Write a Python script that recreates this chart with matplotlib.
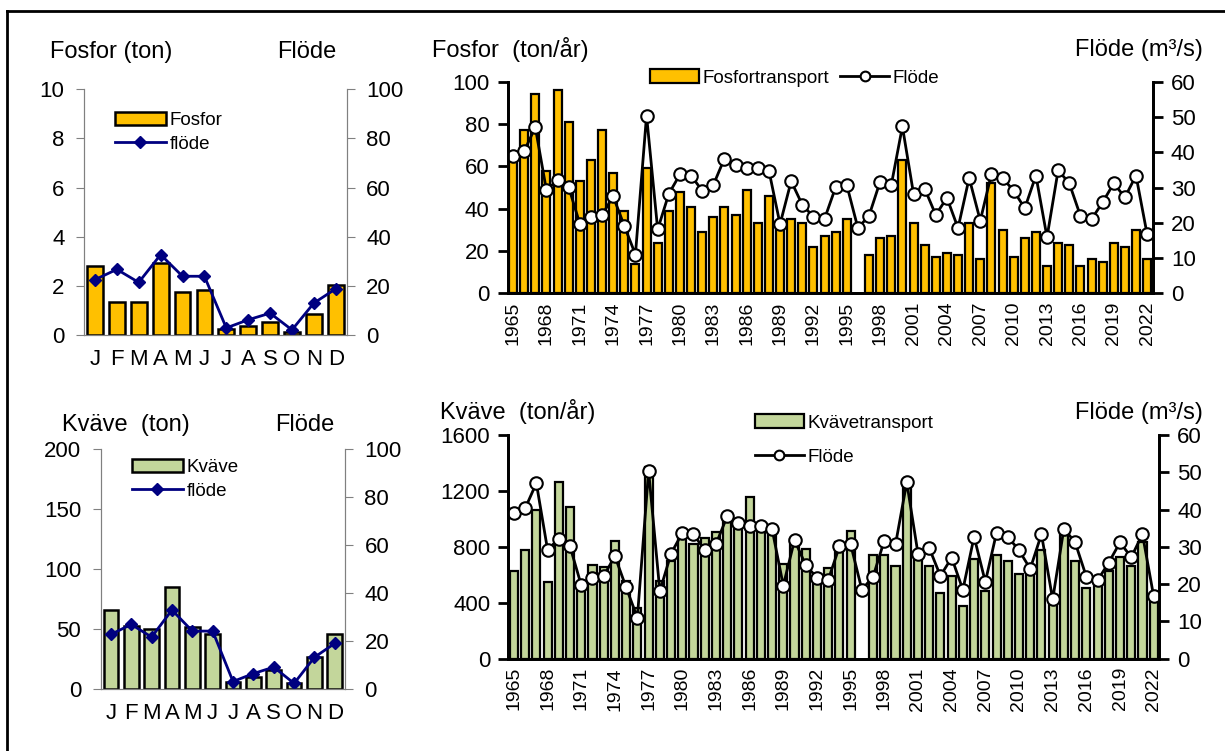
import numpy as np
import matplotlib.pyplot as plt
from matplotlib.lines import Line2D

plt.rcParams['font.family'] = ['Liberation Sans', 'DejaVu Sans']

# monthly data
months = ['J', 'F', 'M', 'A', 'M', 'J', 'J', 'A', 'S', 'O', 'N', 'D']
fosfor_month = [2.82, 1.37, 1.37, 2.93, 1.75, 1.84, 0.24, 0.39, 0.54, 0.15, 0.85, 2.06]
kvave_month = [65.6, 52.0, 50.0, 84.4, 51.4, 45.3, 5.6, 10.0, 16.0, 5.0, 26.7, 45.3]
flode_month = [22.6, 26.8, 21.5, 32.8, 24.0, 24.0, 3.0, 6.3, 9.0, 2.2, 13.1, 18.9]

# yearly data, 1965-2022 (1996 missing transport)
years = list(range(1965, 2023))
fosfor_year = [64, 77, 94, 58, 96, 81, 53, 63, 77, 57, 39, 14, 59, 24, 39, 48,
               41, 29, 36, 41, 37, 49, 33, 46, 32, 35, 33, 22, 27, 29, 35, np.nan,
               18, 26, 27, 63, 33, 23, 17, 19, 18, 33, 16, 52, 30, 17,
               26, 29, 13, 24, 23, 13, 16, 15, 24, 22, 30, 16]
kvave_year = [630, 777, 1063, 551, 1261, 1085, 520, 670, 658, 844, 558, 360, 1373,
              558, 701, 885, 820, 861, 908, 1004, 968, 1154, 949, 908, 675, 854,
              782, 560, 646, 837, 913, np.nan, 741, 741, 663, 1254, 741, 663, 472,
              591, 377, 713, 484, 741, 699, 606, 646, 777, 430, 885, 701, 503,
              539, 629, 730, 665, 837, 440]
flode_year = [39.0, 40.3, 47.1, 29.2, 32.2, 30.1, 19.7, 21.6, 22.2, 27.5, 19.1, 11.0,
              50.4, 18.1, 28.2, 33.7, 33.4, 29.1, 30.7, 38.2, 36.3, 35.6, 35.6, 34.8,
              19.6, 31.8, 25.1, 21.7, 21.1, 30.1, 30.7, 18.5, 22.0, 31.7, 30.7, 47.3,
              28.2, 29.7, 22.2, 27.1, 18.5, 32.7, 20.6, 33.8, 32.7, 29.1, 24.1, 33.4,
              15.9, 34.9, 31.2, 22.0, 21.0, 25.8, 31.2, 27.2, 33.4, 16.7]

YELLOW = '#FFC000'
GREEN = '#C3D69B'
NAVY = '#000080'
GRAY = '#808080'
W, H = 1225, 751


def rect(l, t, r, b):
    return [l / W, 1 - b / H, (r - l) / W, (b - t) / H]


fig = plt.figure(figsize=(12.25, 7.51), dpi=100)

# frame around the whole figure
fig.add_artist(Line2D([7 / W, 7 / W], [0, 1 - 11 / H], color='black', lw=2))
fig.add_artist(Line2D([7 / W, 1], [1 - 11 / H, 1 - 11 / H], color='black', lw=2))


def month_chart(pos, vals, color, ymax, ystep, label, leg_xy):
    ax = fig.add_axes(pos)
    x = np.arange(12)
    ax.bar(x, vals, width=0.72, color=color, edgecolor='black', lw=1.8, label=label, zorder=2)
    ax.set_xlim(-0.5, 11.5)
    ax.set_ylim(0, ymax)
    ax.set_yticks(np.arange(0, ymax + 1, ystep))
    ax.set_xticks(x)
    ax.set_xticklabels(months, fontsize=16)
    ax.tick_params(axis='x', length=0, pad=10)
    ax.tick_params(axis='y', labelsize=16, length=6, color=GRAY, direction='out', pad=8)
    ax.spines['top'].set_visible(False)
    for s in ['left', 'bottom', 'right']:
        ax.spines[s].set_color(GRAY)
    ax2 = ax.twinx()
    ax2.plot(x, flode_month, color=NAVY, lw=2, marker='D', ms=6, label='flöde')
    ax2.set_ylim(0, 100)
    ax2.set_yticks(range(0, 101, 20))
    ax2.tick_params(axis='y', labelsize=16, length=6, color=GRAY, pad=8)
    ax2.spines['top'].set_visible(False)
    for s in ['left', 'bottom', 'right']:
        ax2.spines[s].set_color(GRAY)
    h1, l1 = ax.get_legend_handles_labels()
    h2, l2 = ax2.get_legend_handles_labels()
    ax2.legend(h1 + h2, l1 + l2, loc='upper left', bbox_to_anchor=leg_xy,
               bbox_transform=fig.transFigure, frameon=False, fontsize=13.5,
               handlelength=2.7, handletextpad=0.2, labelspacing=0.35,
               borderpad=0, borderaxespad=0)
    return ax


def year_chart(pos, vals, color, ymax, ystep, label, leg_xy, ncol, lspace):
    ax = fig.add_axes(pos)
    x = np.arange(len(years))
    ax.bar(x, vals, width=0.72, color=color, edgecolor='black', lw=1.6, label=label, zorder=2)
    ax.set_xlim(-0.5, len(years) - 0.5)
    ax.set_ylim(0, ymax)
    ax.set_yticks(np.arange(0, ymax + 1, ystep))
    ax.set_xticks(x[::3])
    ax.set_xticklabels([str(y) for y in years[::3]], rotation=90, fontsize=14)
    ax.tick_params(axis='x', length=0, pad=6)
    ax.tick_params(axis='y', labelsize=16, length=7, width=2, pad=6)
    ax.spines['top'].set_visible(False)
    for s in ['left', 'bottom', 'right']:
        ax.spines[s].set_linewidth(2)
    ax2 = ax.twinx()
    ax2.plot(x, flode_year, color='black', lw=2, marker='o', ms=9,
             mfc='white', mec='black', mew=1.5, label='Flöde')
    ax2.set_ylim(0, 60)
    ax2.set_yticks(range(0, 61, 10))
    ax2.tick_params(axis='y', labelsize=16, length=7, width=2, pad=6)
    ax2.spines['top'].set_visible(False)
    for s in ['left', 'bottom', 'right']:
        ax2.spines[s].set_linewidth(2)
    h1, l1 = ax.get_legend_handles_labels()
    h2, l2 = ax2.get_legend_handles_labels()
    leg = ax2.legend(h1 + h2, l1 + l2, loc='center left', bbox_to_anchor=leg_xy,
                     bbox_transform=fig.transFigure, frameon=False, fontsize=13.5,
                     ncol=ncol, handlelength=2.6, handletextpad=0.2,
                     labelspacing=lspace, columnspacing=0.6,
                     borderpad=0, borderaxespad=0)
    for line in leg.get_lines():
        line.set_markersize(7)
    return ax


month_chart(rect(84, 89.3, 346.7, 335.3), fosfor_month, YELLOW, 10, 2, 'Fosfor',
            (115 / W, 1 - 112 / H))
month_chart(rect(100.7, 448.7, 345, 688.7), kvave_month, GREEN, 200, 50, 'Kväve',
            (132 / W, 1 - 459 / H))
year_chart(rect(507.5, 81.7, 1152.7, 293.3), fosfor_year, YELLOW, 100, 20,
           'Fosfortransport', (650 / W, 1 - 78 / H), 2, 0.5)
year_chart(rect(508.3, 435, 1159.3, 658.7), kvave_year, GREEN, 1600, 400,
           'Kvävetransport', (755 / W, 1 - 440 / H), 1, 0.9)

# axis titles
title_kw = dict(fontsize=17, va='center', ha='left')
fig.text(50 / W, 1 - 52 / H, 'Fosfor (ton)', **title_kw)
fig.text(277 / W, 1 - 52 / H, 'Flöde', **title_kw)
fig.text(432 / W, 1 - 50 / H, 'Fosfor  (ton/år)', **title_kw)
fig.text(1075 / W, 1 - 50 / H, 'Flöde (m³/s)', **title_kw)
fig.text(62 / W, 1 - 425 / H, 'Kväve  (ton)', **title_kw)
fig.text(275 / W, 1 - 425 / H, 'Flöde', **title_kw)
fig.text(440 / W, 1 - 412 / H, 'Kväve  (ton/år)', **title_kw)
fig.text(1075 / W, 1 - 413 / H, 'Flöde (m³/s)', **title_kw)

fig.savefig('out.png', dpi=100)
